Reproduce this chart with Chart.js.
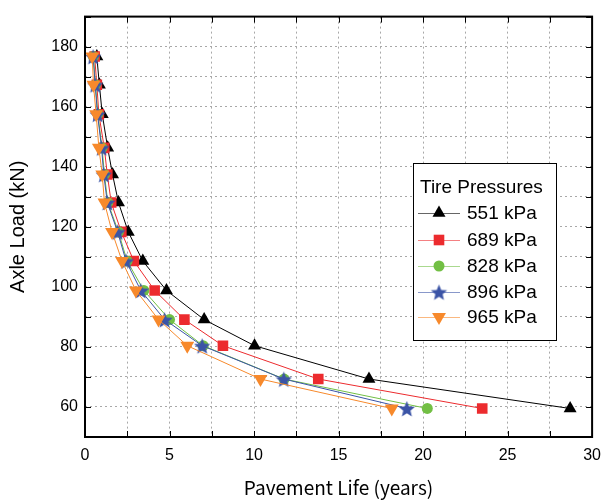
<!DOCTYPE html>
<html>
<head>
<meta charset="utf-8">
<title>Axle Load x Pavement Life</title>
<script src="https://cdn.jsdelivr.net/npm/chart.js@4.4.1/dist/chart.umd.min.js"></script>
<style>
    html, body { margin: 0; padding: 0; background: #fff; }
    #grafico { display: block; }
</style>
</head>
<body>
<canvas id="grafico" width="610" height="501"></canvas>
<script>
// carga por eixo (kN), de baixo para cima
var cargasEixo = [59.5, 69.3, 80.4, 89.1, 98.8, 108.6, 118.3, 128.1, 137.4, 146.3, 157.5, 167.3, 176.7];

// vida do pavimento (anos) para cada pressao de pneu
var vida551 = [28.7, 16.8, 10.03, 7.05, 4.82, 3.42, 2.56, 1.98, 1.63, 1.34, 1.02, 0.85, 0.70];
var vida689 = [23.5, 13.8, 8.16, 5.88, 4.12, 2.89, 2.15, 1.55, 1.32, 1.14, 0.82, 0.70, 0.57];
var vida828 = [20.25, 11.78, 6.99, 5.0, 3.48, 2.49, 1.98, 1.35, 1.15, 1.01, 0.76, 0.62, 0.50];
var vida896 = [19.04, 11.76, 6.93, 4.71, 3.30, 2.43, 1.93, 1.32, 1.11, 0.98, 0.74, 0.60, 0.48];
var vida965 = [18.15, 10.38, 6.05, 4.35, 3.01, 2.19, 1.60, 1.15, 1.02, 0.82, 0.66, 0.50, 0.43];

var rotulosPressao = ["551 kPa", "689 kPa", "828 kPa", "896 kPa", "965 kPa"];

var ticksX = [0, 5, 10, 15, 20, 25, 30];
var ticksY = [60, 80, 100, 120, 140, 160, 180];

var coresPressao = {
    "551 kPa": "#000000",
    "689 kPa": "#ec2b2e",
    "828 kPa": "#72bf44",
    "896 kPa": "#3b54a6",
    "965 kPa": "#f7892b"
};

function criarEstrela(cor, r) {
    var c = document.createElement("canvas");
    var s = Math.ceil(r * 2 + 2);
    c.width = s;
    c.height = s;
    var g = c.getContext("2d");
    g.beginPath();
    for (var i = 0; i < 10; i++) {
        var ang = -Math.PI / 2 + i * Math.PI / 5;
        var rr = (i % 2 === 0) ? r : r * 0.45;
        g.lineTo(s / 2 + rr * Math.cos(ang), s / 2 + 1 + rr * Math.sin(ang));
    }
    g.closePath();
    g.fillStyle = cor;
    g.fill();
    return c;
}

var estiloPonto = {
    "551 kPa": { style: "triangle", radius: 7.5, rotation: 0 },
    "689 kPa": { style: "rect", radius: 7.5, rotation: 0 },
    "828 kPa": { style: "circle", radius: 5.5, rotation: 0 },
    "896 kPa": { style: criarEstrela(coresPressao["896 kPa"], 8.5), radius: 8, rotation: 0 },
    "965 kPa": { style: "triangle", radius: 8, rotation: 180 }
};

function montarSerie(rotulo, vidas, ordem) {
    var pontos = [];
    for (var i = 0; i < vidas.length; i++) {
        pontos.push({ x: vidas[i], y: cargasEixo[i] });
    }
    var est = estiloPonto[rotulo];
    return {
        label: rotulo,
        data: pontos,
        order: ordem,
        showLine: true,
        borderColor: coresPressao[rotulo],
        backgroundColor: coresPressao[rotulo],
        borderWidth: 1,
        pointStyle: est.style,
        pointRadius: est.radius,
        pointRotation: est.rotation,
        pointBorderWidth: 0,
        pointHoverRadius: est.radius
    };
}

var fonteTexto = "'Liberation Sans', Arial, sans-serif";

// moldura, ticks internos e legenda dentro da area
var molduraPlugin = {
    id: "moldura",
    afterDraw: function (chart) {
        var ctx = chart.ctx;
        var a = chart.chartArea;
        var xs = chart.scales.x;
        var ys = chart.scales.y;
        ctx.save();

        ctx.strokeStyle = "#000";
        ctx.lineWidth = 1;
        ctx.beginPath();
        xs.ticks.forEach(function (t) {
            var px = Math.round(xs.getPixelForValue(t.value)) + 0.5;
            ctx.moveTo(px, a.bottom); ctx.lineTo(px, a.bottom - 6);
            ctx.moveTo(px, a.top); ctx.lineTo(px, a.top + 6);
        });
        ys.ticks.forEach(function (t) {
            var py = Math.round(ys.getPixelForValue(t.value)) + 0.5;
            ctx.moveTo(a.left, py); ctx.lineTo(a.left + 6, py);
            ctx.moveTo(a.right, py); ctx.lineTo(a.right - 6, py);
        });
        ctx.stroke();

        ctx.lineWidth = 2;
        ctx.strokeRect(a.left, a.top, a.right - a.left, a.bottom - a.top);

        // legenda
        var bx = 413, by = 163, bw = 143, bh = 177;
        ctx.fillStyle = "#fff";
        ctx.fillRect(bx, by, bw, bh);
        ctx.lineWidth = 1;
        ctx.strokeStyle = "#000";
        ctx.strokeRect(bx + 0.5, by + 0.5, bw, bh);

        ctx.fillStyle = "#000";
        ctx.font = "19px " + fonteTexto;
        ctx.textBaseline = "middle";
        ctx.textAlign = "left";
        ctx.fillText("Tire Pressures", 420, 188);

        var linhas = [213, 240, 266, 292, 317];
        chart.data.datasets.forEach(function (ds, i) {
            var y = linhas[i];
            ctx.strokeStyle = ds.borderColor;
            ctx.globalAlpha = 0.6;
            ctx.lineWidth = 1;
            ctx.beginPath();
            ctx.moveTo(418, y + 0.5);
            ctx.lineTo(460, y + 0.5);
            ctx.stroke();
            ctx.globalAlpha = 1;
            ctx.fillStyle = ds.backgroundColor;
            Chart.helpers.drawPoint(ctx, {
                pointStyle: ds.pointStyle,
                radius: ds.pointRadius,
                rotation: ds.pointRotation,
                borderWidth: 0
            }, 439, y);
            ctx.fillStyle = "#000";
            ctx.fillText(ds.label, 467, y + 1);
        });

        ctx.restore();
    }
};

var config = {
    type: "scatter",
    data: {
        datasets: [
            montarSerie(rotulosPressao[0], vida551, 5),
            montarSerie(rotulosPressao[1], vida689, 4),
            montarSerie(rotulosPressao[2], vida828, 3),
            montarSerie(rotulosPressao[3], vida896, 2),
            montarSerie(rotulosPressao[4], vida965, 1)
        ]
    },
    options: {
        responsive: false,
        animation: false,
        layout: { padding: { top: 10, right: 3, left: 0, bottom: 0 } },
        plugins: {
            legend: { display: false },
            tooltip: { enabled: false }
        },
        scales: {
            x: {
                type: "linear",
                min: 0,
                max: 30,
                afterFit: function (s) { s.height = 64; },
                ticks: {
                    stepSize: 2.5,
                    autoSkip: false,
                    maxRotation: 0,
                    padding: 9,
                    color: "#000",
                    font: { family: fonteTexto, size: 16 },
                    callback: function (v) { return ticksX.indexOf(v) >= 0 ? String(v) : ""; }
                },
                grid: { color: "#a8a8a8", lineWidth: 1, drawTicks: false },
                border: { display: false, dash: [2, 3] },
                title: {
                    display: true,
                    text: "Pavement Life (years)",
                    color: "#000",
                    font: { family: "'Noto Sans CJK JP', sans-serif", size: 19 },
                    padding: { top: 0, bottom: 2 }
                }
            },
            y: {
                type: "linear",
                min: 50,
                max: 190,
                afterFit: function (s) { s.width = 85; },
                ticks: {
                    stepSize: 10,
                    autoSkip: false,
                    padding: 7,
                    color: "#000",
                    font: { family: fonteTexto, size: 16 },
                    callback: function (v) { return ticksY.indexOf(v) >= 0 ? String(v) : ""; }
                },
                grid: { color: "#a8a8a8", lineWidth: 1, drawTicks: false },
                border: { display: false, dash: [2, 3] },
                title: {
                    display: true,
                    text: "Axle Load (kN)",
                    color: "#000",
                    font: { family: fonteTexto, size: 20 },
                    padding: { top: 6, bottom: 0 }
                }
            }
        }
    },
    plugins: [molduraPlugin]
};

new Chart(document.getElementById("grafico"), config);
</script>
</body>
</html>
